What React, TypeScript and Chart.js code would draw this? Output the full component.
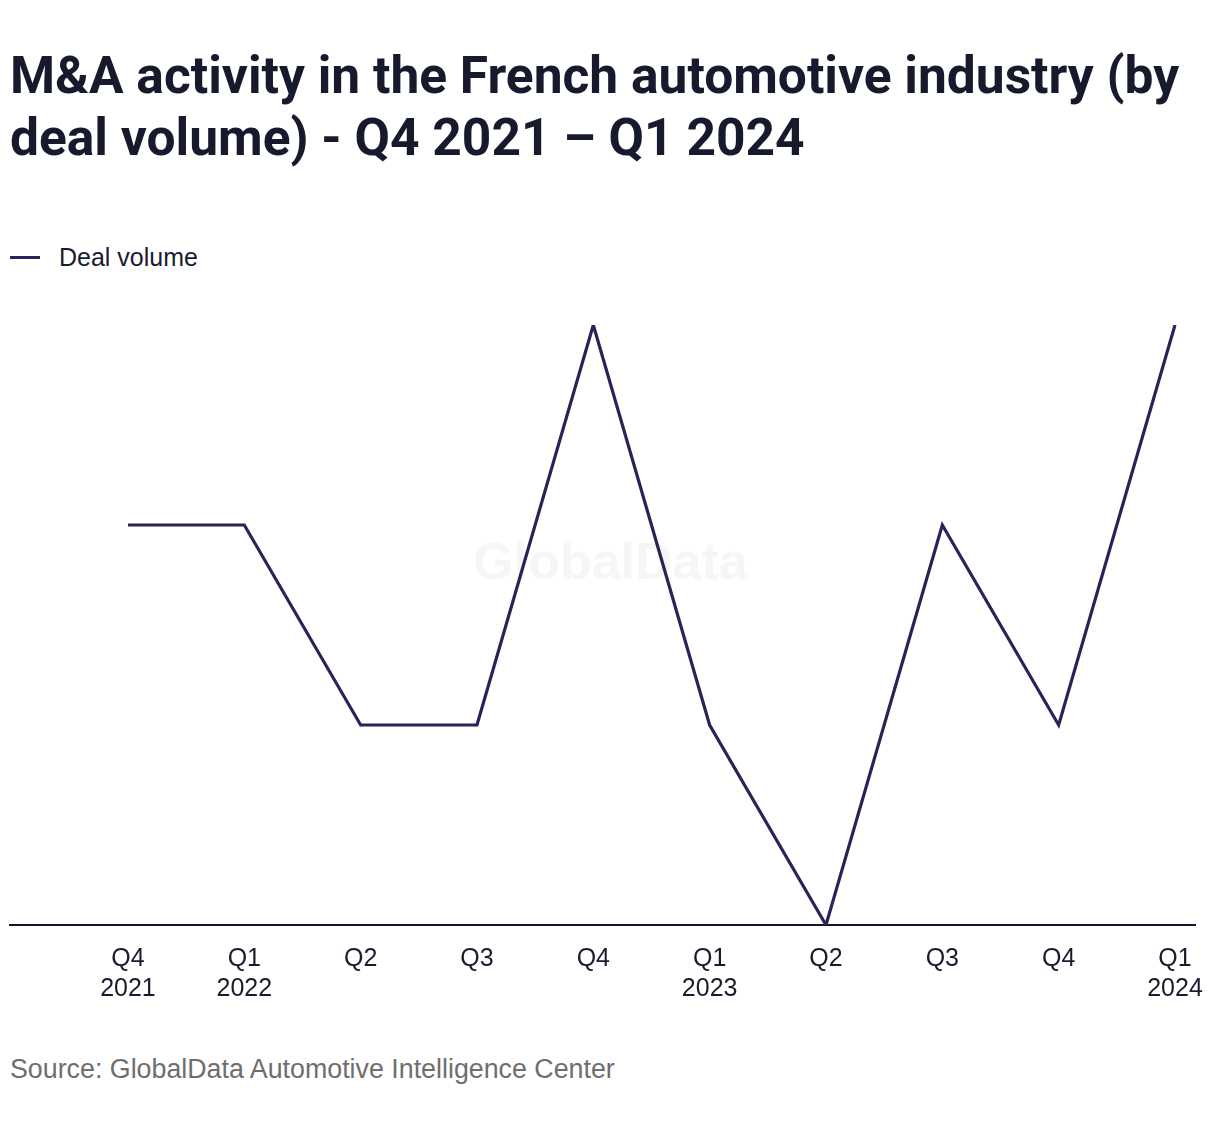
import React, { useEffect, useRef } from 'react';
import { Chart, registerables } from 'chart.js';

Chart.register(...registerables);

const quarterLabels: string[][] = [
  ['Q4', '2021'],
  ['Q1', '2022'],
  ['Q2'],
  ['Q3'],
  ['Q4'],
  ['Q1', '2023'],
  ['Q2'],
  ['Q3'],
  ['Q4'],
  ['Q1', '2024'],
];
const dealVolume: number[] = [2, 2, 1, 1, 3, 1, 0, 2, 1, 3];

const lineColor = '#2f2158';
const textColor = '#1b1b2f';

const watermark = {
  id: 'watermark',
  beforeDatasetsDraw(chart: Chart) {
    const { ctx, chartArea } = chart;
    ctx.save();
    ctx.font = 'bold 52px "Liberation Sans", Arial, sans-serif';
    ctx.fillStyle = '#f6f6f7';
    ctx.textAlign = 'center';
    ctx.textBaseline = 'middle';
    const x = (chartArea.left + chartArea.right) / 2 + 8;
    const y = chartArea.top + (chartArea.bottom - chartArea.top) * 0.4;
    ctx.fillText('GlobalData', x, y);
    ctx.restore();
  },
};

const App: React.FC = () => {
  const chartRef = useRef<HTMLCanvasElement>(null);

  useEffect(() => {
    if (!chartRef.current) return;
    const ctx = chartRef.current.getContext('2d');
    if (!ctx) return;
    const myChart = new Chart(ctx, {
      type: 'line',
      data: {
        datasets: [
          {
            label: 'Deal volume',
            data: dealVolume.map((v, i) => ({ x: i, y: v })),
            borderColor: lineColor,
            backgroundColor: lineColor,
            borderWidth: 3.2,
            pointRadius: 0,
            tension: 0,
          },
        ],
      },
      options: {
        animation: false,
        responsive: false,
        layout: { padding: { top: 25, left: 2, right: 17, bottom: 7 } },
        plugins: {
          legend: { display: false },
          tooltip: { enabled: false },
        },
        scales: {
          x: {
            type: 'linear',
            min: -1.014,
            max: 9.172,
            afterBuildTicks: (scale) => {
              scale.ticks = quarterLabels.map((_, i) => ({ value: i }));
            },
            afterFit: (scale) => {
              // let the last label hang past the plot edge, as in the original
              scale.paddingLeft = 0;
              scale.paddingRight = 0;
            },
            grid: { display: false, drawTicks: false },
            border: { display: true, color: '#14142a', width: 2 },
            ticks: {
              padding: 19,
              maxRotation: 0,
              autoSkip: false,
              color: textColor,
              font: { family: '"Liberation Sans", Arial, sans-serif', size: 25, lineHeight: 1.2 },
              callback: (value) => quarterLabels[Number(value)] ?? '',
            },
          },
          y: {
            display: false,
            min: 0,
            max: 3,
          },
        },
      },
      plugins: [watermark],
    });
    return () => {
      myChart.destroy();
    };
  }, []);

  return (
    <div style={{ position: 'relative', width: 1204, height: 1110 }}>
      <div
        style={{
          position: 'absolute',
          top: 37,
          left: 2,
          fontFamily: 'Roboto, sans-serif',
          fontWeight: 700,
          fontSize: 51.5,
          lineHeight: '62px',
          color: '#171a2c',
          whiteSpace: 'nowrap',
        }}
      >
        M&amp;A activity in the French automotive industry (by
        <br />
        deal volume) - Q4 2021 – Q1 2024
      </div>
      <div
        style={{
          position: 'absolute',
          top: 234,
          left: 2,
          height: 30,
          display: 'flex',
          alignItems: 'center',
          fontFamily: '"Liberation Sans", Arial, sans-serif',
          fontSize: 25,
          color: textColor,
        }}
      >
        <span style={{ display: 'inline-block', width: 30, height: 3, background: lineColor, marginRight: 19 }} />
        Deal volume
      </div>
      <canvas
        ref={chartRef}
        width={1204}
        height={730}
        style={{ position: 'absolute', top: 292, left: 0, width: 1204, height: 730 }}
      />
      <div
        style={{
          position: 'absolute',
          top: 1045,
          left: 2,
          fontFamily: '"Liberation Sans", Arial, sans-serif',
          fontSize: 26.8,
          lineHeight: '32px',
          color: '#6e6e6e',
          whiteSpace: 'nowrap',
        }}
      >
        Source: GlobalData Automotive Intelligence Center
      </div>
    </div>
  );
};

export default App;
